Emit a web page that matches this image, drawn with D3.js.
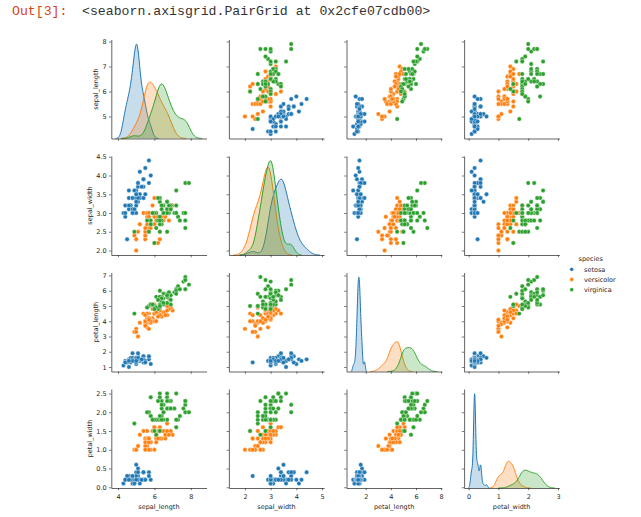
<!DOCTYPE html>
<html><head><meta charset="utf-8">
<script src="https://cdn.jsdelivr.net/npm/d3@7"></script>
<style>
body{margin:0;background:#fff}
svg{display:block}
text{font-family:"DejaVu Sans",sans-serif}
</style>
</head><body>
<svg id="chart" width="641" height="517"></svg>
<script>
// ---- data (Fisher's iris, as plotted) ----
const speciesNames = ["setosa", "versicolor", "virginica"];
const speciesIndex = [
0,0,0,0,0,0,0,0,0,0,0,0,0,0,0,0,0,0,0,0,0,0,0,0,0,0,0,0,0,0,0,0,0,0,0,0,0,0,0,0,0,0,0,0,0,0,0,0,0,0,
1,1,1,1,1,1,1,1,1,1,1,1,1,1,1,1,1,1,1,1,1,1,1,1,1,1,1,1,1,1,1,1,1,1,1,1,1,1,1,1,1,1,1,1,1,1,1,1,1,1,
2,2,2,2,2,2,2,2,2,2,2,2,2,2,2,2,2,2,2,2,2,2,2,2,2,2,2,2,2,2,2,2,2,2,2,2,2,2,2,2,2,2,2,2,2,2,2,2,2,2];
const sepalLength = [
5.1,4.9,4.7,4.6,5.0,5.4,4.6,5.0,4.4,4.9,5.4,4.8,4.8,4.3,5.8,5.7,5.4,5.1,5.7,5.1,5.4,5.1,4.6,5.1,4.8,5.0,5.0,5.2,5.2,4.7,4.8,5.4,5.2,5.5,4.9,5.0,5.5,4.9,4.4,5.1,5.0,4.5,4.4,5.0,5.1,4.8,5.1,4.6,5.3,5.0,
7.0,6.4,6.9,5.5,6.5,5.7,6.3,4.9,6.6,5.2,5.0,5.9,6.0,6.1,5.6,6.7,5.6,5.8,6.2,5.6,5.9,6.1,6.3,6.1,6.4,6.6,6.8,6.7,6.0,5.7,5.5,5.5,5.8,6.0,5.4,6.0,6.7,6.3,5.6,5.5,5.5,6.1,5.8,5.0,5.6,5.7,5.7,6.2,5.1,5.7,
6.3,5.8,7.1,6.3,6.5,7.6,4.9,7.3,6.7,7.2,6.5,6.4,6.8,5.7,5.8,6.4,6.5,7.7,7.7,6.0,6.9,5.6,7.7,6.3,6.7,7.2,6.2,6.1,6.4,7.2,7.4,7.9,6.4,6.3,6.1,7.7,6.3,6.4,6.0,6.9,6.7,6.9,5.8,6.8,6.7,6.7,6.3,6.5,6.2,5.9];
const sepalWidth = [
3.5,3.0,3.2,3.1,3.6,3.9,3.4,3.4,2.9,3.1,3.7,3.4,3.0,3.0,4.0,4.4,3.9,3.5,3.8,3.8,3.4,3.7,3.6,3.3,3.4,3.0,3.4,3.5,3.4,3.2,3.1,3.4,4.1,4.2,3.1,3.2,3.5,3.6,3.0,3.4,3.5,2.3,3.2,3.5,3.8,3.0,3.8,3.2,3.7,3.3,
3.2,3.2,3.1,2.3,2.8,2.8,3.3,2.4,2.9,2.7,2.0,3.0,2.2,2.9,2.9,3.1,3.0,2.7,2.2,2.5,3.2,2.8,2.5,2.8,2.9,3.0,2.8,3.0,2.9,2.6,2.4,2.4,2.7,2.7,3.0,3.4,3.1,2.3,3.0,2.5,2.6,3.0,2.6,2.3,2.7,3.0,2.9,2.9,2.5,2.8,
3.3,2.7,3.0,2.9,3.0,3.0,2.5,2.9,2.5,3.6,3.2,2.7,3.0,2.5,2.8,3.2,3.0,3.8,2.6,2.2,3.2,2.8,2.8,2.7,3.3,3.2,2.8,3.0,2.8,3.0,2.8,3.8,2.8,2.8,2.6,3.0,3.4,3.1,3.0,3.1,3.1,3.1,2.7,3.2,3.3,3.0,2.5,3.0,3.4,3.0];
const petalLength = [
1.4,1.4,1.3,1.5,1.4,1.7,1.4,1.5,1.4,1.5,1.5,1.6,1.4,1.1,1.2,1.5,1.3,1.4,1.7,1.5,1.7,1.5,1.0,1.7,1.9,1.6,1.6,1.5,1.4,1.6,1.6,1.5,1.5,1.4,1.5,1.2,1.3,1.4,1.3,1.5,1.3,1.3,1.3,1.6,1.9,1.4,1.6,1.4,1.5,1.4,
4.7,4.5,4.9,4.0,4.6,4.5,4.7,3.3,4.6,3.9,3.5,4.2,4.0,4.7,3.6,4.4,4.5,4.1,4.5,3.9,4.8,4.0,4.9,4.7,4.3,4.4,4.8,5.0,4.5,3.5,3.8,3.7,3.9,5.1,4.5,4.5,4.7,4.4,4.1,4.0,4.4,4.6,4.0,3.3,4.2,4.2,4.2,4.3,3.0,4.1,
6.0,5.1,5.9,5.6,5.8,6.6,4.5,6.3,5.8,6.1,5.1,5.3,5.5,5.0,5.1,5.3,5.5,6.7,6.9,5.0,5.7,4.9,6.7,4.9,5.7,6.0,4.8,4.9,5.6,5.8,6.1,6.4,5.6,5.1,5.6,6.1,5.6,5.5,4.8,5.4,5.6,5.1,5.1,5.9,5.7,5.2,5.0,5.2,5.4,5.1];
const petalWidth = [
0.2,0.2,0.2,0.2,0.2,0.4,0.3,0.2,0.2,0.1,0.2,0.2,0.1,0.1,0.2,0.4,0.4,0.3,0.3,0.3,0.2,0.4,0.2,0.5,0.2,0.2,0.4,0.2,0.2,0.2,0.2,0.4,0.1,0.2,0.2,0.2,0.2,0.1,0.2,0.2,0.3,0.3,0.2,0.6,0.4,0.3,0.2,0.2,0.2,0.2,
1.4,1.5,1.5,1.3,1.5,1.3,1.6,1.0,1.3,1.4,1.0,1.5,1.0,1.4,1.3,1.4,1.5,1.0,1.5,1.1,1.8,1.3,1.5,1.2,1.3,1.4,1.4,1.7,1.5,1.0,1.1,1.0,1.2,1.6,1.5,1.6,1.5,1.3,1.3,1.3,1.2,1.4,1.2,1.0,1.3,1.2,1.3,1.3,1.1,1.3,
2.5,1.9,2.1,1.8,2.2,2.1,1.7,1.8,1.8,2.5,2.0,1.9,2.1,2.0,2.4,2.3,1.8,2.2,2.3,1.5,2.3,2.0,2.0,1.8,2.1,1.8,1.8,1.8,2.1,1.6,1.9,2.0,2.2,1.5,1.4,2.3,2.4,1.8,1.8,2.1,2.4,2.3,1.9,2.3,2.5,2.3,1.9,2.0,2.3,1.8];

const varNames = ["sepal_length", "sepal_width", "petal_length", "petal_width"];
const sepalLengthTicksX = [4, 6, 8];
const sepalWidthTicksX = [2, 3, 4, 5];
const petalLengthTicksX = [2, 4, 6, 8];
const petalWidthTicksX = [0, 1, 2, 3];
const sepalLengthTicksY = [5, 6, 7, 8];
const sepalWidthTicksY = [2.0, 2.5, 3.0, 3.5, 4.0, 4.5];
const petalLengthTicksY = [1, 2, 3, 4, 5, 6, 7];
const petalWidthTicksY = [0.0, 0.5, 1.0, 1.5, 2.0, 2.5];
const palette = ["#1f77b4", "#ff7f0e", "#2ca02c"];
const headerPrompt = "Out[3]:";
const headerText = "<seaborn.axisgrid.PairGrid at 0x2cfe07cdb00>";
const legendTitle = "species";

// ---- derived ----
const columns = [sepalLength, sepalWidth, petalLength, petalWidth];
const xTicks = [sepalLengthTicksX, sepalWidthTicksX, petalLengthTicksX, petalWidthTicksX];
const yTicks = [sepalLengthTicksY, sepalWidthTicksY, petalLengthTicksY, petalWidthTicksY];
const yFmt = [d3.format("d"), d3.format(".1f"), d3.format("d"), d3.format(".1f")];
const xFmt = d3.format("d");

const groupOf = arr => speciesNames.map((_, k) => arr.filter((_, i) => speciesIndex[i] === k));

function bandwidth(v) {
  const s = d3.deviation(v);
  const sorted = v.slice().sort(d3.ascending);
  const iqr = (d3.quantileSorted(sorted, 0.75) - d3.quantileSorted(sorted, 0.25)) / 1.349;
  return 1.059 * Math.min(s, iqr) * Math.pow(v.length, -0.2);
}
function kde(v) {
  const bw = bandwidth(v);
  const lo = d3.min(v) - 3 * bw, hi = d3.max(v) + 3 * bw;
  const n = 128, c = 1 / (bw * Math.sqrt(2 * Math.PI));
  const pts = d3.range(n).map(k => {
    const x = lo + (hi - lo) * k / (n - 1);
    const y = d3.mean(v, xi => Math.exp(-0.5 * ((x - xi) / bw) ** 2)) * c;
    return [x, y];
  });
  return pts;
}
const kdes = columns.map(col => groupOf(col).map(kde));

const xDomains = columns.map((col, i) => {
  let lo = d3.min(col), hi = d3.max(col);
  kdes[i].forEach(p => { lo = Math.min(lo, p[0][0]); hi = Math.max(hi, p[p.length - 1][0]); });
  const m = 0.05 * (hi - lo);
  return [lo - m, hi + m];
});
const yDomains = columns.map(col => {
  const [lo, hi] = d3.extent(col);
  const m = 0.05 * (hi - lo);
  return [lo - m, hi + m];
});

// ---- layout ----
const L0 = 111.3, DXp = 117.6, W = 95.2, T0 = 39.5, DYp = 116.5, H = 99;
const FS = 6.5, TL = 2.3, TP = 2.3;
const svg = d3.select("#chart");

svg.append("text").attr("x", 12).attr("y", 15).attr("fill", "#D84315")
  .style("font-family", "'Liberation Mono', monospace").style("font-size", "13.2px").text(headerPrompt);
svg.append("text").attr("x", 82).attr("y", 15).attr("fill", "#333")
  .style("font-family", "'Liberation Mono', monospace").style("font-size", "13.2px").text(headerText);

for (let j = 0; j < 4; j++) {
  for (let i = 0; i < 4; i++) {
    const left = L0 + i * DXp, top = T0 + j * DYp;
    const g = svg.append("g").attr("transform", `translate(${left},${top})`);
    const x = d3.scaleLinear(xDomains[i], [0, W]);
    const y = d3.scaleLinear(yDomains[j], [H, 0]);

    if (i === j) {
      const maxD = d3.max(kdes[i], p => d3.max(p, d => d[1]));
      const yk = d3.scaleLinear([0, 1.05 * maxD], [H, 0]);
      kdes[i].forEach((p, k) => {
        g.append("path").datum(p)
          .attr("d", d3.area().x(d => x(d[0])).y0(yk(0)).y1(d => yk(d[1])))
          .attr("fill", palette[k]).attr("fill-opacity", 0.25);
        g.append("path").datum(p)
          .attr("d", d3.line().x(d => x(d[0])).y(d => yk(d[1])))
          .attr("fill", "none").attr("stroke", palette[k]).attr("stroke-width", 1);
      });
    } else {
      const xs = columns[i], ys = columns[j];
      g.selectAll("circle").data(d3.range(xs.length)).join("circle")
        .attr("cx", n => x(xs[n])).attr("cy", n => y(ys[n])).attr("r", 2.2)
        .attr("fill", n => palette[speciesIndex[n]])
        .attr("stroke", "#fff").attr("stroke-width", 0.4);
    }

    const ax = g.append("g").attr("transform", `translate(0,${H})`)
      .call(d3.axisBottom(x).tickValues(xTicks[i]).tickSize(TL).tickSizeOuter(0).tickPadding(TP)
        .tickFormat(j === 3 ? xFmt : () => ""));
    const ay = g.append("g")
      .call(d3.axisLeft(y).tickValues(yTicks[j]).tickSize(TL).tickSizeOuter(0).tickPadding(TP)
        .tickFormat(i === 0 ? yFmt[j] : () => ""));
    [ax, ay].forEach(a => {
      a.selectAll(".domain").attr("stroke", "#222").attr("stroke-width", 0.7);
      a.selectAll(".tick line").attr("stroke", "#222").attr("stroke-width", 0.6);
      a.selectAll("text").attr("fill", "#262626").style("font-size", FS + "px")
        .style("font-family", "'DejaVu Sans',sans-serif");
    });
    ax.selectAll(".tick text").attr("dy", null).attr("y", TL + TP + 6.3);

    if (j === 3) {
      g.append("text").attr("x", W / 2).attr("y", H + 21).attr("text-anchor", "middle")
        .attr("fill", "#262626").style("font-size", FS + "px").text(varNames[i]);
    }
    if (i === 0) {
      let maxW = 0;
      ay.selectAll(".tick text").each(function () { maxW = Math.max(maxW, this.getComputedTextLength()); });
      const lx = -(TL + TP + maxW + 2.6 + 1.5);
      g.append("text").attr("transform", `translate(${lx},${H / 2}) rotate(-90)`)
        .attr("text-anchor", "middle").attr("fill", "#262626").style("font-size", FS + "px")
        .text(varNames[j]);
    }
  }
}

// legend
const lg = svg.append("g").attr("transform", "translate(571.7,0)");
lg.append("text").attr("x", 19).attr("y", 261.3).attr("text-anchor", "middle")
  .attr("fill", "#262626").style("font-size", FS + "px").text(legendTitle);
speciesNames.forEach((s, k) => {
  const yy = 269.3 + k * 10.2;
  lg.append("circle").attr("cx", 0).attr("cy", yy).attr("r", 1.9).attr("fill", palette[k])
    .attr("stroke", "#fff").attr("stroke-width", 0.3);
  lg.append("text").attr("x", 12.3).attr("y", yy + 2.3).attr("fill", "#262626")
    .style("font-size", FS + "px").text(s);
});
</script>
</body></html>
